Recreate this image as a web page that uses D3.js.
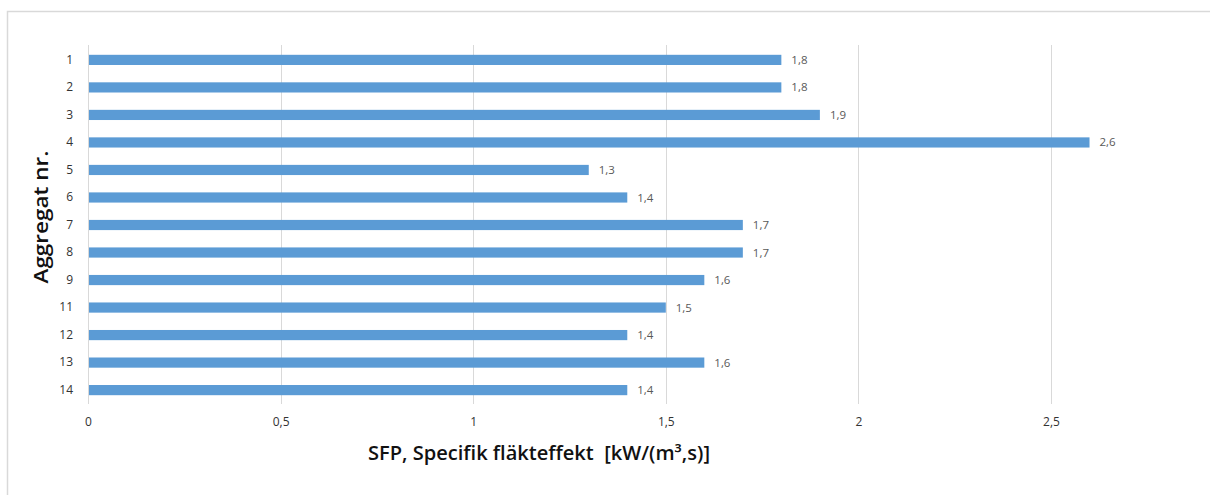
<!DOCTYPE html>
<html><head><meta charset="utf-8">
<script src="https://cdn.jsdelivr.net/npm/d3@7"></script>
<style>body{margin:0;background:#fff}svg{display:block}</style>
</head><body>
<svg id="c" width="1210" height="495"></svg>
<script>
const categories = ["1","2","3","4","5","6","7","8","9","11","12","13","14"];
const values = [1.8,1.8,1.9,2.6,1.3,1.4,1.7,1.7,1.6,1.5,1.4,1.6,1.4];
const xTicks = [0,0.5,1,1.5,2,2.5];
const xTitle = "SFP, Specifik fläkteffekt\u00a0\u00a0[kW/(m³,s)]";
const yTitle = "Aggregat nr.";

const svg = d3.select("#c");
const font = "'Open Sans', Lato, sans-serif";
// outer frame
svg.append("path").attr("d","M7.5,495 V11.5 H1210").attr("fill","none").attr("stroke","#d9d9d9").attr("stroke-width",1.5);

const x = d3.scaleLinear().domain([0,2.5]).range([88,1051]);
const y = d3.scaleBand().domain(categories).range([46,404]).paddingInner(0.63).paddingOuter(0.32);

// gridlines
svg.append("g").selectAll("line").data(xTicks).join("line")
  .attr("x1",d=>Math.round(x(d))+0.5).attr("x2",d=>Math.round(x(d))+0.5)
  .attr("y1",45).attr("y2",404).attr("stroke","#d9d9d9").attr("stroke-width",1);

// bars
svg.append("g").selectAll("rect").data(values).join("rect")
  .attr("x",x(0)+1).attr("y",(d,i)=>y(categories[i]))
  .attr("width",d=>x(d)-x(0)-1).attr("height",y.bandwidth())
  .attr("fill","#5b9bd5");

// value labels
svg.append("g").selectAll("text").data(values).join("text")
  .attr("x",d=>x(d)+10).attr("y",(d,i)=>y(categories[i])+y.bandwidth()/2)
  .attr("dy","0.35em").attr("font-family",font).attr("font-size",11.5).attr("fill","#595959")
  .text(d=>String(d).replace(".",","));

// y axis labels
const ya = svg.append("g").attr("transform","translate(88,0)").call(d3.axisLeft(y).tickSize(0).tickPadding(15));
ya.select(".domain").remove();
ya.selectAll("text").attr("font-family",font).attr("font-size",12).attr("fill","#333");

// x axis labels
const xa = svg.append("g").attr("transform","translate(0,410)").call(d3.axisBottom(x).tickValues(xTicks).tickSize(0).tickPadding(7).tickFormat(d=>String(d).replace(".",",")));
xa.select(".domain").remove();
xa.selectAll("text").attr("font-family",font).attr("font-size",12).attr("fill","#333");

// titles
svg.append("text").attr("x",539).attr("y",460).attr("text-anchor","middle")
  .attr("font-family",font).attr("font-size",19).attr("font-weight",600).attr("fill","#111")
  .attr("textLength",342).attr("lengthAdjust","spacingAndGlyphs").text(xTitle);
svg.append("text").attr("transform","translate(48,217) rotate(-90)").attr("text-anchor","middle")
  .attr("font-family",font).attr("font-size",19).attr("font-weight",600).attr("fill","#111")
  .attr("textLength",133).attr("lengthAdjust","spacingAndGlyphs").text(yTitle);
</script>
</body></html>
